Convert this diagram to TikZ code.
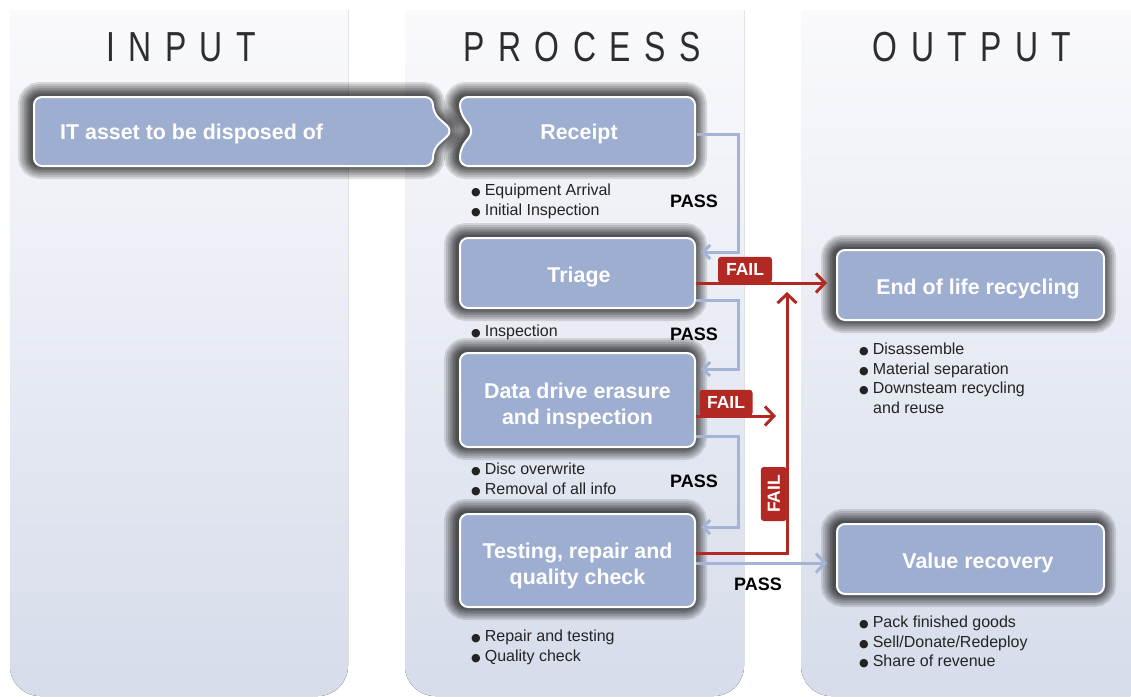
\documentclass[tikz,border=0pt]{standalone}
\usepackage{fontspec}
\setmainfont{Liberation Sans}
\newfontfamily\headfont[FakeStretch=0.76,LetterSpace=32]{Liberation Sans}
\newfontfamily\dotfont{DejaVu Sans}
\usepackage{xcolor}
\usetikzlibrary{arrows.meta}

\definecolor{stageblue}{RGB}{157,174,209}
\definecolor{passblue}{RGB}{163,180,215}
\definecolor{failred}{RGB}{178,40,34}
\definecolor{coltop}{RGB}{252,252,254}
\definecolor{colbottom}{RGB}{214,220,234}
\definecolor{headgray}{RGB}{45,45,45}
\definecolor{notegray}{RGB}{35,35,35}

\newcommand{\bul}{{\dotfont\fontsize{11}{11}\selectfont ●}\hspace{4pt}}

\begin{document}
\begin{tikzpicture}[
  x=1pt, y=-1pt,
  column/.style={top color=coltop, bottom color=colbottom, rounded corners=30pt},
  heading/.style={font=\headfont\fontsize{42}{42}\selectfont, text=headgray},
  glowring/.style={preaction={draw=black, draw opacity=0.12, line width=#1,
    transform canvas={xshift=-2pt, yshift=1pt}}},
  glow/.style={glowring=28pt, glowring=24pt, glowring=20pt, glowring=16pt,
    glowring=13pt, glowring=10pt, glowring=7pt, glowring=4pt},
  stage/.style={
    fill=stageblue, draw=white, line width=2pt, rounded corners=8pt, glow
  },
  stagetext/.style={
    text=white, font=\fontsize{21.4}{26}\selectfont\bfseries,
    align=center, inner sep=0pt
  },
  stagebox/.style={stage, stagetext, minimum height=70pt, minimum width=235pt,
    text height=24pt},
  twoline/.style={text height=52.5pt},
  note/.style={
    anchor=north west, align=left, inner sep=0pt, text=notegray,
    font=\fontsize{16}{19.5}\selectfont
  },
  passtext/.style={font=\fontsize{18}{18}\selectfont\bfseries},
  passline/.style={draw=passblue, line width=3pt},
  failline/.style={draw=failred, line width=3pt},
  backtip/.style={-{Straight Barb[length=7pt, width=14pt]}, shorten >=5pt},
  fwdtip/.style={-{Straight Barb[length=9pt, width=19pt]}},
  failtab/.style={
    fill=failred, text=white, rounded corners=3pt, anchor=south,
    font=\fontsize{17.5}{17.5}\selectfont\bfseries,
    minimum width=54pt, minimum height=26pt, inner sep=0pt
  }
]
\useasboundingbox (0,0) rectangle (1131,696);

% background columns
\begin{scope}
  \clip (0,10) rectangle (1131,696);
  \fill[column] (10,-40) rectangle (348,696);
  \fill[column] (405,-40) rectangle (744,696);
  \fill[column] (801,-40) rectangle (1160,696);
\end{scope}

\node[heading] (hin) at (181,47) {INPUT};
\node[heading] (hproc) at (582,47) {PROCESS};
\node[heading] (hout) at (972,47) {OUTPUT};

% input and receipt
\draw[stage] (34,97) -- (433,97) -- (433,113) -- (453,131) -- (433,149) -- (433,166) -- (34,166) -- cycle;
\draw[stage] (460,97) -- (695,97) -- (695,166) -- (460,166) -- (460,149) -- (474,131) -- (460,113) -- cycle;
\node[stagetext, anchor=west] (asset) at (60,134) {IT asset to be disposed of};
\node[stagetext, minimum width=235pt, minimum height=69pt] (receipt) at (579,134) {Receipt};

% process and output stages
\node[stagebox] (triage) at (577.5,273) {\hspace*{3pt}Triage};
\node[stagebox, twoline, minimum height=94pt] (erase) at (577.5,400) {Data drive erasure\\and inspection};
\node[stagebox, twoline, minimum height=93pt] (testing) at (577.5,560.5) {Testing, repair and\\quality check};
\node[stagebox, minimum width=267pt] (recycle) at (970.5,285) {\hspace*{15pt}End of life recycling};
\node[stagebox, minimum width=267pt] (recover) at (970.5,559) {\hspace*{15pt}Value recovery};

% notes
\node[note] (n1) at (471,184) {\bul Equipment Arrival\\\bul Initial Inspection};
\node[note] (n2) at (471,325) {\bul Inspection};
\node[note] (n3) at (471,463) {\bul Disc overwrite\\\bul Removal of all info};
\node[note] (n4) at (471,630) {\bul Repair and testing\\\bul Quality check};
\node[note] (n5) at (859,343) {\bul Disassemble\\\bul Material separation\\\bul Downsteam recycling\\\hspace*{14pt}and reuse};
\node[note] (n6) at (859,616) {\bul Pack finished goods\\\bul Sell/Donate/Redeploy\\\bul Share of revenue};

% pass connectors
\draw[passline, backtip] (receipt.east) -- ++(42,0) |- ([yshift=-15pt]triage.north east);
\draw[passline, backtip] ([yshift=9pt]triage.south east) -- ++(42,0) |- ([yshift=-17pt]erase.north east);
\draw[passline, backtip] ([yshift=12pt]erase.south east) -- ++(42,0) |- ([yshift=-14pt]testing.north east);
\draw[passline, fwdtip, shorten >=9pt] ([yshift=-2.5pt]testing.east) -- ([yshift=-2.5pt]testing.east -| recover.west);

% fail connectors
\coordinate (failup) at (787,292);
\draw[failline, fwdtip, shorten >=9pt] ([yshift=-10pt]triage.east) -- ([yshift=-10pt]triage.east -| recycle.west);
\draw[failline, fwdtip] ([yshift=-16pt]erase.east) -- ++(80,0);
\draw[failline, fwdtip] ([yshift=7.5pt]testing.east) -| (failup);

\node[failtab] (fail1) at (745,283) {FAIL};
\node[failtab, minimum width=53pt] (fail2) at (726,416) {FAIL};
\node[failtab, rotate=90] (fail3) at (787,494) {FAIL};

\node[passtext] (pass1) at (694,201) {PASS};
\node[passtext] (pass2) at (694,334) {PASS};
\node[passtext] (pass3) at (694,481) {PASS};
\node[passtext] (pass4) at (758,584) {PASS};

\end{tikzpicture}
\end{document}
